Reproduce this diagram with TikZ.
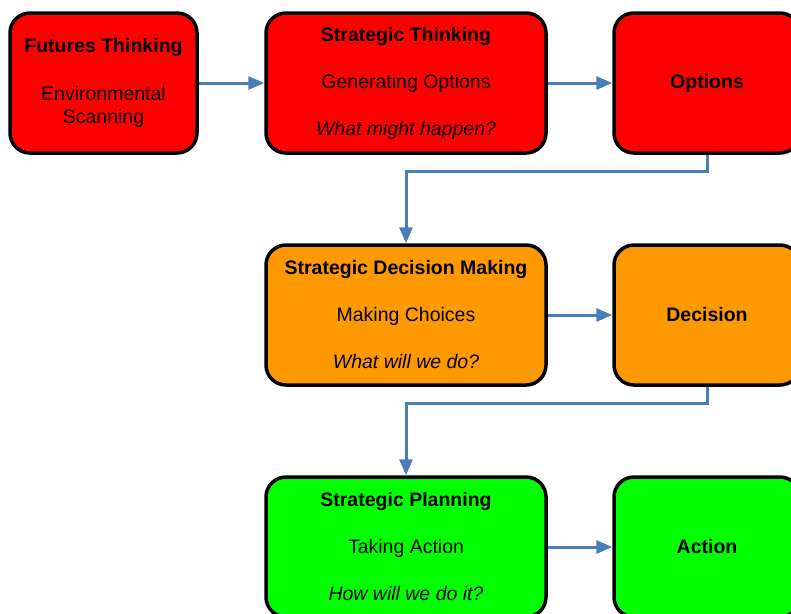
\documentclass[tikz,border=0pt]{standalone}
\usepackage{fontspec}
\setmainfont{Liberation Sans}
\usetikzlibrary{positioning, arrows.meta}
\usepackage{xcolor}
\definecolor{stagered}{RGB}{255,0,0}
\definecolor{stageorange}{RGB}{255,153,0}
\definecolor{stagegreen}{RGB}{0,255,0}
\definecolor{flowblue}{RGB}{74,126,187}

\begin{document}
\begin{tikzpicture}[
    x=1pt, y=1pt,
    box/.style={draw, line width=3.5pt, rectangle, rounded corners=20pt, minimum height=140pt, align=center, font=\fontsize{19.5}{23.5}\selectfont},
    bigbox/.style={box, minimum width=280pt},
    smallbox/.style={box, minimum width=186pt},
    arrow/.style={-{Triangle[length=16pt, width=13pt]}, line width=3pt, draw=flowblue}
]
\useasboundingbox (0,0) rectangle (791,-613);

% Nodes
\node[smallbox, fill=stagered, minimum width=187pt] (futures) at (103.5,-83) {\textbf{Futures Thinking}\\[24pt] Environmental\\ Scanning};
\node[bigbox, fill=stagered, right=65.5pt of futures] (thinking) {\textbf{Strategic Thinking}\\[23.5pt] Generating Options\\[23.5pt] \textit{What might happen?}};
\node[smallbox, fill=stagered, right=64.5pt of thinking] (options) {\textbf{Options}};

\node[bigbox, fill=stageorange, below=88.5pt of thinking] (making) {\textbf{Strategic Decision Making}\\[23.5pt] Making Choices\\[23.5pt] \textit{What will we do?}};
\node[smallbox, fill=stageorange, right=64.5pt of making] (decision) {\textbf{Decision}};

\node[bigbox, fill=stagegreen, below=88.5pt of making] (planning) {\textbf{Strategic Planning}\\[23.5pt] Taking Action\\[23.5pt] \textit{How will we do it?}};
\node[smallbox, fill=stagegreen, right=64.5pt of planning] (action) {\textbf{Action}};

% Edges
\draw[arrow] (futures) -- (thinking);
\draw[arrow] (thinking) -- (options);
\draw[arrow] (options.south) -- ++(0,-17pt) -| (making.north);
\draw[arrow] (making) -- (decision);
\draw[arrow] (decision.south) -- ++(0,-17pt) -| (planning.north);
\draw[arrow] (planning) -- (action);

\end{tikzpicture}
\end{document}
